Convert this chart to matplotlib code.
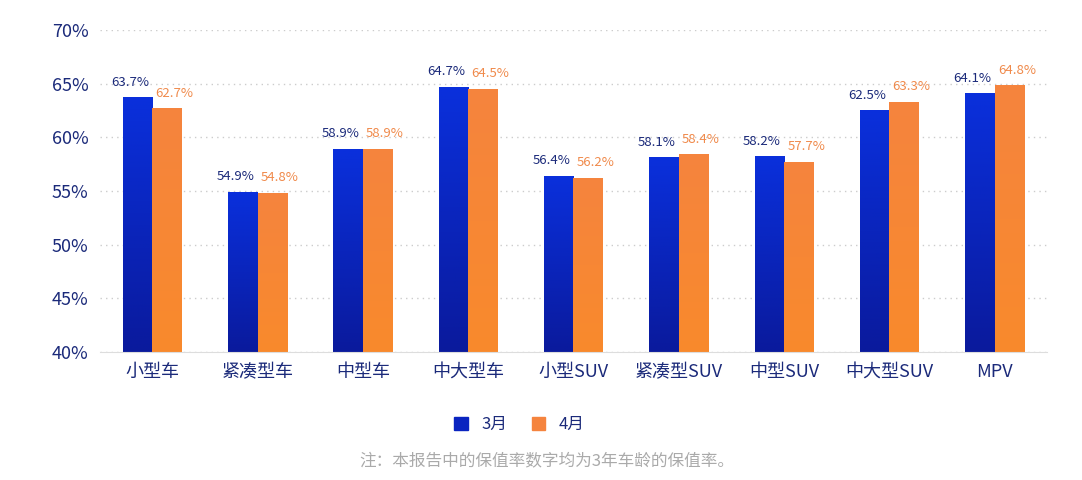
import numpy as np
import matplotlib
matplotlib.use("Agg")
from matplotlib import pyplot as plt
from matplotlib.colors import LinearSegmentedColormap
from matplotlib.patches import Patch

plt.rcParams["font.family"] = ["Noto Sans CJK SC", "DejaVu Sans"]

categories = ["小型车", "紧凑型车", "中型车", "中大型车", "小型SUV", "紧凑型SUV", "中型SUV", "中大型SUV", "MPV"]
march = [63.7, 54.9, 58.9, 64.7, 56.4, 58.1, 58.2, 62.5, 64.1]
april = [62.7, 54.8, 58.9, 64.5, 56.2, 58.4, 57.7, 63.3, 64.8]
yticks = [40, 45, 50, 55, 60, 65, 70]

navy = "#1b2a7a"
blue_cmap = LinearSegmentedColormap.from_list("b", ["#0a1a9c", "#0a30dc"])
orange_cmap = LinearSegmentedColormap.from_list("o", ["#f98a2c", "#f5843e"])

fig = plt.figure(figsize=(10.82, 4.8), dpi=100)
ax = fig.add_axes([0.092, 0.267, 0.876, 0.6705])

x = np.arange(len(categories))
w = 0.28
grad = np.linspace(0, 1, 256).reshape(-1, 1)
series = [(x - w / 2, march, blue_cmap, navy, "right", w - 0.03),
          (x + w / 2, april, orange_cmap, "#f08a4b", "left", 0.03)]
for xs, vals, cmap, col, ha, off in series:
    bars = ax.bar(xs, vals, w, color="none", zorder=2)
    for b, v in zip(bars, vals):
        ax.imshow(grad, cmap=cmap, origin="lower", aspect="auto", zorder=2,
                  extent=[b.get_x(), b.get_x() + w, 40, v])
        ax.text(b.get_x() + off, v + 0.8, f"{v:.1f}%", ha=ha, va="bottom",
                fontsize=9.5, color=col)

ax.set_xlim(-0.5, len(categories) - 0.5)
ax.set_ylim(40, 70)
ax.set_yticks(yticks)
ax.set_yticklabels([f"{t}%" for t in yticks], fontsize=13, color=navy)
ax.set_xticks(x)
ax.set_xticklabels(categories, fontsize=13, color=navy)
ax.tick_params(length=0, pad=8)
ax.grid(axis="y", linestyle=(0, (1, 3)), color="#cccccc", linewidth=1, zorder=0)
for s in ["top", "right", "left"]:
    ax.spines[s].set_visible(False)
ax.spines["bottom"].set_color("#dddddd")

handles = [Patch(color="#0a24c0", label="3月"), Patch(color="#f5843e", label="4月")]
fig.legend(handles=handles, loc="center", bbox_to_anchor=(0.48, 0.115), ncol=2, frameon=False,
           fontsize=12, handlelength=0.8, handleheight=0.8, columnspacing=1.5, labelcolor=navy)
fig.text(0.505, 0.04, "注：本报告中的保值率数字均为3年车龄的保值率。", ha="center", va="center",
         fontsize=12, color="#aaaaaa")

fig.savefig("out.png", dpi=100)
